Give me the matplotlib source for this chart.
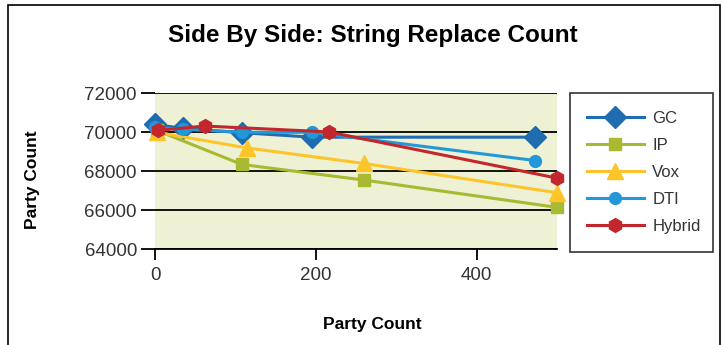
import matplotlib
matplotlib.use('Agg')
import matplotlib.pyplot as plt
from matplotlib.patches import Rectangle

# ===== Data =====
gc_x = [0, 35, 108, 195, 473]
gc_y = [70400, 70200, 69980, 69750, 69750]

ip_x = [2, 108, 260, 500]
ip_y = [70100, 68350, 67550, 66150]

vox_x = [2, 114, 260, 500]
vox_y = [70000, 69200, 68400, 66900]

dti_x = [0, 35, 108, 195, 473]
dti_y = [70250, 70150, 70000, 70000, 68550]

hyb_x = [4, 62, 216, 500]
hyb_y = [70100, 70320, 70020, 67650]

series = [
    ('GC', gc_x, gc_y, '#1f6cb0', 'D', 11.5),
    ('IP', ip_x, ip_y, '#a9b932', 's', 8),
    ('Vox', vox_x, vox_y, '#fdc52a', '^', 12),
    ('DTI', dti_x, dti_y, '#2398d8', 'o', 8.5),
    ('Hybrid', hyb_x, hyb_y, '#c1272d', 'h', 10),
]

yticks = [64000, 66000, 68000, 70000, 72000]
xticks = [0, 200, 400]

plt.rcParams['font.family'] = ['Liberation Sans', 'DejaVu Sans']

fig = plt.figure(figsize=(7.22, 3.45), dpi=100)
ax = fig.add_axes([0.2147, 0.2774, 0.5568, 0.4522])
ax.set_facecolor('#eef1d4')

for name, x, y, c, m, ms in series:
    ax.plot(x, y, color=c, lw=2.2, marker=m, markersize=ms, label=name,
            clip_on=False, zorder=5)

ax.set_xlim(0, 500)
ax.set_ylim(64000, 72000)
ax.set_yticks(yticks)
ax.set_xticks(xticks)
ax.yaxis.grid(True, color='black', lw=1.3)
ax.set_axisbelow(True)
for s in ['top', 'right', 'left']:
    ax.spines[s].set_visible(False)
ax.spines['bottom'].set_linewidth(1.3)
ax.tick_params(axis='y', length=10, width=1.3, colors='black', labelcolor='#333333',
               labelsize=13.5, pad=3)
ax.tick_params(axis='x', length=8, width=1.3, colors='black', labelcolor='#333333',
               labelsize=13.5, pad=5)

fig.text(0.516, 0.897, 'Side By Side: String Replace Count', ha='center', va='center',
         fontsize=17.5, fontweight='bold')
fig.text(0.516, 0.058, 'Party Count', ha='center', va='center',
         fontsize=12.5, fontweight='bold')
fig.text(0.045, 0.478, 'Party Count', ha='center', va='center', rotation=90,
         fontsize=12.5, fontweight='bold')

leg = ax.legend(loc='upper left', bbox_to_anchor=(0.789, 0.2754, 0.198, 0.455),
                bbox_transform=fig.transFigure, mode='expand', borderaxespad=0,
                frameon=True, fancybox=False, edgecolor='black', fontsize=12,
                handlelength=3.4, labelspacing=0.73, borderpad=1.05,
                handletextpad=0.5)
leg.get_frame().set_linewidth(1.2)
for t in leg.get_texts():
    t.set_color('#333333')

# outer chart border (bottom edge cut off in the reference)
fig.patches.append(Rectangle((0.011, -0.1), 0.986, 1.085, transform=fig.transFigure,
                             fill=False, edgecolor='black', lw=1.2))

fig.savefig('out.png', dpi=100)
